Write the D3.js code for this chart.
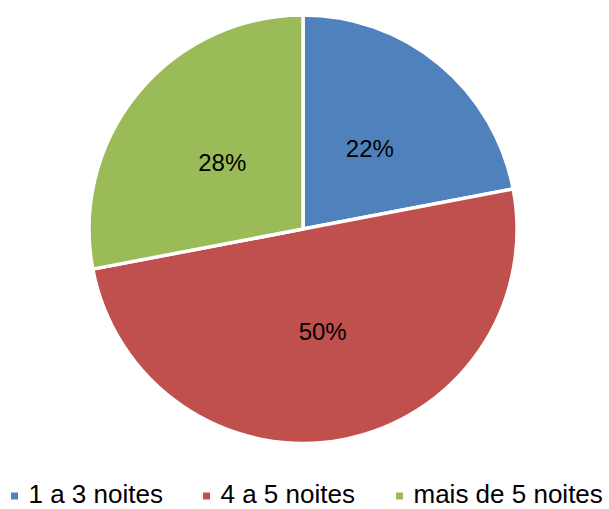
<!DOCTYPE html>
<html>
<head>
<meta charset="utf-8">
<script src="https://cdn.jsdelivr.net/npm/d3@7"></script>
<style>
	body { margin: 0; background: #fff; }
	text { font-family: Arial, "Liberation Sans", sans-serif; fill: #000; }
</style>
</head>
<body>
<script>
var categories = ['1 a 3 noites', '4 a 5 noites', 'mais de 5 noites'];
var values = [22, 50, 28];
var colors = ['#4F81BD', '#C0504D', '#9BBB59'];

var width = 609;
var height = 509;
var cx = 303;
var cy = 229;
var radius = 214;

var svg = d3.select('body')
	.append('svg')
	.attr('width', width)
	.attr('height', height);

var pie = d3.pie()
	.sort(null)
	.value(function(d) { return d; });

var arc = d3.arc()
	.innerRadius(0)
	.outerRadius(radius);

var labelArc = d3.arc()
	.innerRadius(radius * 0.49)
	.outerRadius(radius * 0.49);

var total = d3.sum(values);
var arcs = pie(values);

var g = svg.append('g')
	.attr('transform', 'translate(' + cx + ',' + cy + ')');

g.selectAll('path')
	.data(arcs)
	.enter()
	.append('path')
	.attr('d', arc)
	.attr('fill', function(d, i) { return colors[i]; })
	.attr('stroke', '#fff')
	.attr('stroke-width', 3.5)
	.attr('stroke-linejoin', 'round');

g.selectAll('text.label')
	.data(arcs)
	.enter()
	.append('text')
	.attr('class', 'label')
	.attr('text-anchor', 'middle')
	.attr('dy', '0.35em')
	.style('font-size', '24px')
	.attr('transform', function(d) {
		return 'translate(' + labelArc.centroid(d) + ')';
	})
	.text(function(d) {
		return Math.round(d.value / total * 100) + '%';
	});

// legend
var legendX = [11, 203, 396];
var legend = svg.selectAll('g.legend')
	.data(categories)
	.enter()
	.append('g')
	.attr('class', 'legend')
	.attr('transform', function(d, i) {
		return 'translate(' + legendX[i] + ',496)';
	});

legend.append('rect')
	.attr('x', 0)
	.attr('y', -3.5)
	.attr('width', 7)
	.attr('height', 7)
	.attr('fill', function(d, i) { return colors[i]; });

legend.append('text')
	.attr('x', 17.5)
	.attr('y', 7)
	.style('font-size', '26px')
	.text(function(d) { return d; });
</script>
</body>
</html>
